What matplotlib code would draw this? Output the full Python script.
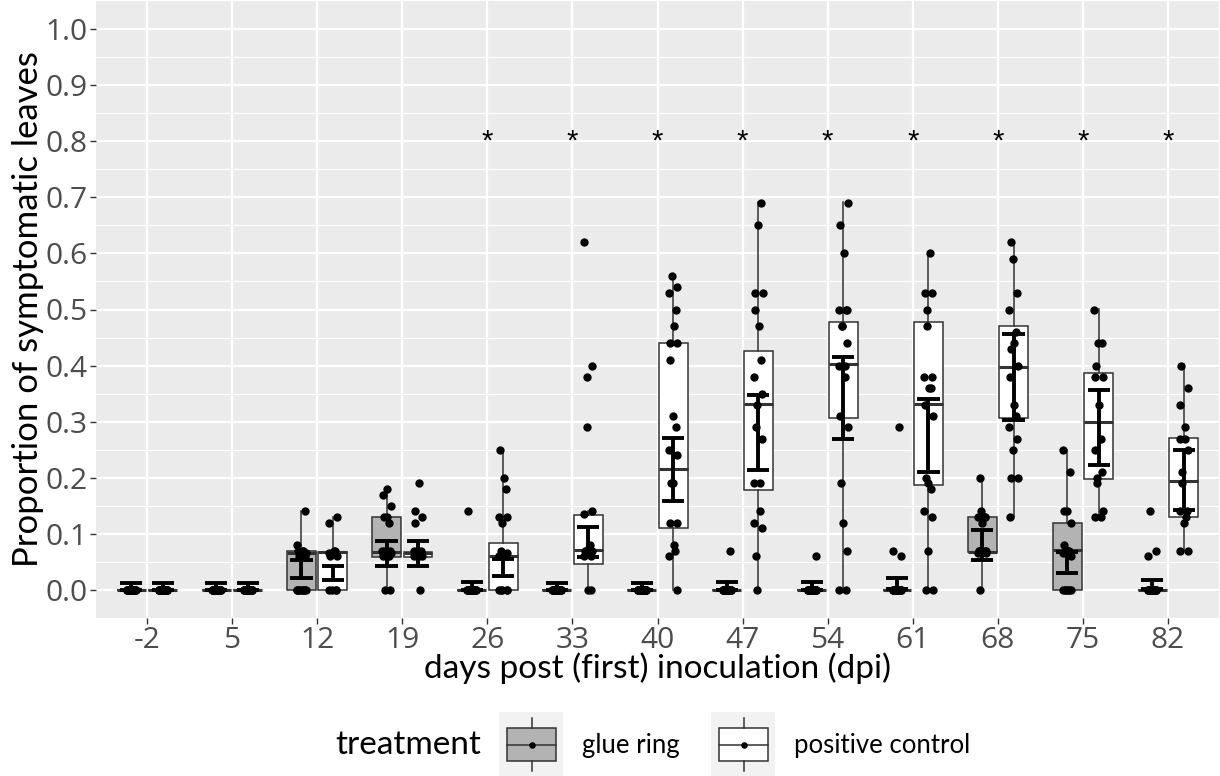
import numpy as np
import matplotlib.pyplot as plt
from matplotlib.patches import Rectangle

# dpi values on the x axis (discrete)
days = [-2, 5, 12, 19, 26, 33, 40, 47, 54, 61, 68, 75, 82]
significant = [False, False, False, False, True, True, True, True, True, True, True, True, True]

# raw proportions, one list per day
glue_pts = [
    [0] * 20,
    [0] * 20,
    [0.14, 0.08, 0.07, 0.07, 0.07, 0.065, 0.06, 0.06, 0.06] + [0] * 9,
    [0.18, 0.17, 0.15, 0.13, 0.13, 0.12, 0.07, 0.07, 0.07, 0.07, 0.065, 0.065, 0.06, 0.06, 0.06, 0, 0],
    [0.14] + [0] * 19,
    [0] * 20,
    [0] * 20,
    [0.07] + [0] * 19,
    [0.06] + [0] * 19,
    [0.29, 0.07, 0.06] + [0] * 17,
    [0.20, 0.14, 0.13, 0.13, 0.13, 0.12, 0.07, 0.07, 0.07, 0.07, 0.07, 0.065, 0.065, 0.07, 0],
    [0.25, 0.21, 0.14, 0.14, 0.12, 0.08, 0.07, 0.07, 0.065, 0.06, 0, 0, 0, 0, 0, 0],
    [0.14, 0.07, 0.06] + [0] * 17,
]
pos_pts = [
    [0] * 20,
    [0] * 20,
    [0.13, 0.12, 0.07, 0.07, 0.065, 0.06, 0.06, 0, 0, 0, 0],
    [0.19, 0.14, 0.13, 0.12, 0.07, 0.07, 0.07, 0.065, 0.065, 0.065, 0.06, 0.06, 0.06, 0],
    [0.25, 0.20, 0.18, 0.13, 0.13, 0.12, 0.07, 0.065, 0.06, 0.06, 0.06, 0.06, 0, 0, 0, 0, 0],
    [0.62, 0.40, 0.38, 0.29, 0.14, 0.135, 0.08, 0.075, 0.07, 0.07, 0.07, 0.065, 0.06, 0.06, 0, 0],
    [0.56, 0.54, 0.53, 0.50, 0.47, 0.44, 0.44, 0.41, 0.31, 0.29, 0.25, 0.24, 0.19, 0.19, 0.12, 0.12, 0.08, 0.07, 0.06, 0],
    [0.69, 0.65, 0.53, 0.53, 0.50, 0.47, 0.41, 0.38, 0.35, 0.33, 0.29, 0.27, 0.19, 0.19, 0.14, 0.12, 0.11, 0.06, 0],
    [0.69, 0.65, 0.60, 0.50, 0.50, 0.50, 0.47, 0.47, 0.44, 0.40, 0.40, 0.38, 0.31, 0.29, 0.19, 0.12, 0.07, 0, 0],
    [0.60, 0.53, 0.53, 0.50, 0.47, 0.38, 0.38, 0.36, 0.36, 0.33, 0.31, 0.20, 0.19, 0.18, 0.14, 0.13, 0.07, 0, 0],
    [0.62, 0.59, 0.53, 0.50, 0.46, 0.44, 0.43, 0.40, 0.38, 0.33, 0.31, 0.29, 0.27, 0.25, 0.20, 0.20, 0.13],
    [0.50, 0.44, 0.44, 0.40, 0.38, 0.38, 0.33, 0.27, 0.25, 0.21, 0.20, 0.19, 0.14, 0.13, 0.13],
    [0.40, 0.36, 0.33, 0.29, 0.27, 0.27, 0.25, 0.21, 0.19, 0.14, 0.14, 0.13, 0.12, 0.07, 0.07],
]

# box statistics: (whisker low, q1, median, q3, whisker high)
glue_box = [
    (0, 0, 0, 0, 0), (0, 0, 0, 0, 0), (0, 0, 0.065, 0.07, 0.14), (0, 0.059, 0.068, 0.13, 0.18),
    (0, 0, 0, 0, 0), (0, 0, 0, 0, 0), (0, 0, 0, 0, 0), (0, 0, 0, 0, 0), (0, 0, 0, 0, 0),
    (0, 0, 0, 0, 0), (0, 0.068, 0.068, 0.13, 0.20), (0, 0, 0.071, 0.12, 0.25), (0, 0, 0, 0, 0),
]
pos_box = [
    (0, 0, 0, 0, 0), (0, 0, 0, 0, 0), (0, 0, 0.068, 0.068, 0.13), (0.059, 0.059, 0.065, 0.068, 0.068),
    (0, 0, 0.061, 0.083, 0.25), (0, 0.046, 0.072, 0.133, 0.14), (0, 0.111, 0.215, 0.441, 0.561),
    (0, 0.178, 0.331, 0.426, 0.691), (0, 0.306, 0.402, 0.478, 0.691), (0, 0.188, 0.331, 0.478, 0.601),
    (0.13, 0.306, 0.397, 0.471, 0.621), (0.13, 0.198, 0.300, 0.386, 0.501), (0.071, 0.130, 0.195, 0.271, 0.402),
]

# model estimate intervals (lower, upper)
glue_ci = [(0, 0.013), (0, 0.013), (0.022, 0.053), (0.042, 0.087), (0, 0.014), (0, 0.013), (0, 0.013),
           (0, 0.014), (0, 0.014), (0.002, 0.021), (0.053, 0.107), (0.031, 0.068), (0.001, 0.018)]
pos_ci = [(0, 0.013), (0, 0.013), (0.017, 0.043), (0.042, 0.088), (0.025, 0.055), (0.058, 0.113),
          (0.159, 0.271), (0.214, 0.348), (0.270, 0.415), (0.210, 0.341), (0.303, 0.456),
          (0.223, 0.357), (0.142, 0.249)]

treatments = ["glue ring", "positive control"]
fills = ["#B3B3B3", "white"]
edge = "#333333"

fig = plt.figure(figsize=(12.2, 7.76), dpi=100)
ax = fig.add_axes([96 / 1220, 158 / 776, 1123 / 1220, 617 / 776])
ax.set_facecolor("#EBEBEB")

x = np.arange(len(days))
offset, bw = 0.185, 0.34

for k, (pts, boxes, ci) in enumerate([(glue_pts, glue_box, glue_ci), (pos_pts, pos_box, pos_ci)]):
    pos = x + (2 * k - 1) * offset
    stats = [dict(whislo=b[0], q1=b[1], med=b[2], q3=b[3], whishi=b[4], fliers=[]) for b in boxes]
    ax.bxp(stats, positions=pos, widths=bw, patch_artist=True, showcaps=False, showfliers=False,
           boxprops=dict(facecolor=fills[k], edgecolor=edge, linewidth=1.1),
           medianprops=dict(color=edge, linewidth=2.2, solid_capstyle="butt"),
           whiskerprops=dict(color=edge, linewidth=1.1), zorder=2)
    for i, vals in enumerate(pts):
        n = len(vals)
        jit = 0.05 * np.sin(np.arange(n) * 2.39 + i)
        ax.scatter(pos[i] + jit, vals, s=36, color="black", zorder=3, linewidths=0)
    lo = [c[0] for c in ci]
    hi = [c[1] for c in ci]
    ax.vlines(pos, lo, hi, color="black", linewidth=2.8, zorder=4)
    ax.hlines(lo, pos - 0.13, pos + 0.13, color="black", linewidth=2.8, zorder=4)
    ax.hlines(hi, pos - 0.13, pos + 0.13, color="black", linewidth=2.8, zorder=4)

for i, s in enumerate(significant):
    if s:
        ax.text(x[i], 0.80, "*", ha="center", va="center", fontsize=21, family="Liberation Sans")

ax.set_xlim(-0.6, len(days) - 0.4)
ax.set_ylim(-0.05, 1.05)
ax.set_xticks(x)
ax.set_xticklabels([str(d) for d in days])
ax.set_yticks(np.arange(0, 1.01, 0.1))
ax.set_yticklabels([f"{v:.1f}" for v in np.arange(0, 1.01, 0.1)])
ax.set_yticks(np.arange(0.05, 1.05, 0.1), minor=True)
ax.grid(True, which="major", color="white", linewidth=1.6)
ax.grid(True, which="minor", axis="y", color="white", linewidth=0.8)
ax.set_axisbelow(True)
for sp in ax.spines.values():
    sp.set_visible(False)
ax.tick_params(axis="both", which="major", length=4, width=1, color="#333333",
               labelcolor="#4D4D4D", labelsize=21.5, pad=2)
ax.tick_params(which="minor", length=0)
for lab in ax.get_xticklabels() + ax.get_yticklabels():
    lab.set_family("Open Sans")

ax.set_xlabel("days post (first) inoculation (dpi)", fontsize=24, family="Lato", labelpad=-2)
ax.set_ylabel("Proportion of symptomatic leaves", fontsize=25, family="Lato", labelpad=1)

# legend at the bottom
fig.text(335 / 1220, 1 - 745 / 776, "treatment", fontsize=24, family="Lato", va="center", ha="left")
for k, (kx, lx) in enumerate([(499, 582), (711, 794)]):
    kax = fig.add_axes([kx / 1220, 1 - 776 / 776, 64 / 1220, 64 / 776])
    kax.set_xlim(0, 1)
    kax.set_ylim(0, 1)
    kax.axis("off")
    kax.add_patch(Rectangle((0, 0), 1, 1, facecolor="#F2F2F2", edgecolor="none"))
    kax.add_patch(Rectangle((0.13, 0.23), 0.76, 0.52, facecolor=fills[k], edgecolor=edge, linewidth=1.1))
    kax.plot([0.13, 0.89], [0.49, 0.49], color=edge, linewidth=1.1)
    kax.plot([0.51, 0.51], [0.75, 0.91], color=edge, linewidth=1.1)
    kax.plot([0.51, 0.51], [0.08, 0.23], color=edge, linewidth=1.1)
    kax.scatter([0.51], [0.49], s=22, color="black", zorder=3, linewidths=0)
    fig.text(lx / 1220, 1 - 745 / 776, treatments[k], fontsize=18.5, family="Lato", va="center", ha="left")

fig.savefig("out.png", dpi=100)
